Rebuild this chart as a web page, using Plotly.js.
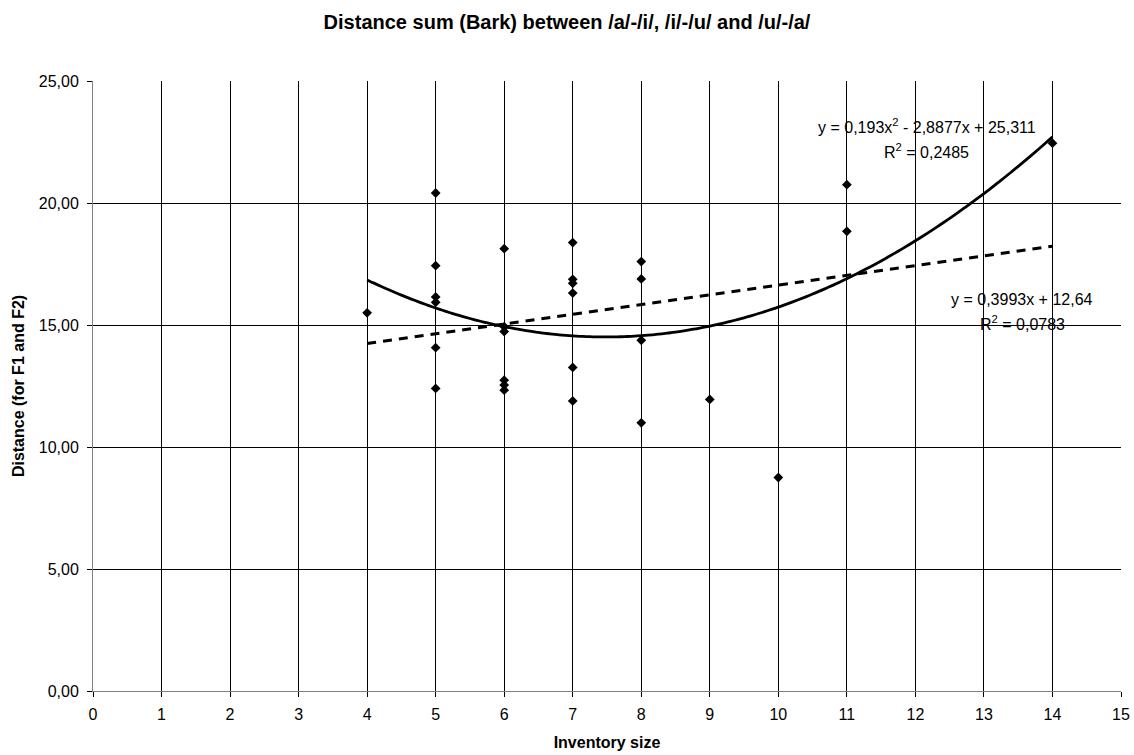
<!DOCTYPE html>
<html>
<head>
<meta charset="utf-8">
<script src="https://cdn.plot.ly/plotly-3.0.1.min.js"></script>
<style>html,body{margin:0;padding:0;background:#fff;}#chart{width:1134px;height:755px;}</style>
</head>
<body>
<div id="chart"></div>
<script>
// Observed data points (inventory size, distance sum in Bark)
const inventorySize = [4, 5,5,5,5,5,5, 6,6,6,6,6,6, 7,7,7,7,7,7, 8,8,8,8, 9, 10, 11,11, 14];
const distanceSum   = [15.50, 20.41,17.43,16.15,15.93,14.07,12.40, 18.13,14.93,14.73,12.74,12.54,12.33, 18.38,16.87,16.71,16.31,13.26,11.89, 17.60,16.89,14.37,10.99, 11.95, 8.75, 20.75,18.84, 22.45];

// Trendline coefficients as displayed on the chart
const polyCoef = [25.311, -2.8877, 0.193];   // c0 + c1 x + c2 x^2
const linCoef  = [12.64, 0.3993];            // c0 + c1 x
const trendRange = [4, 14];

const xTicks = [0,1,2,3,4,5,6,7,8,9,10,11,12,13,14,15];
const yTicks = [0,5,10,15,20,25];

const polyX = [], polyY = [];
for (let i = 0; i <= 100; i++) {
  const x = trendRange[0] + (trendRange[1] - trendRange[0]) * i / 100;
  polyX.push(x);
  polyY.push(polyCoef[0] + polyCoef[1] * x + polyCoef[2] * x * x);
}
const linX = trendRange.slice();
const linY = linX.map(x => linCoef[0] + linCoef[1] * x);

const font = 'Liberation Sans, Arial, sans-serif';

const traces = [
  {x: linX, y: linY, mode: 'lines', line: {color: '#000', width: 3, dash: '9px,7px'}, hoverinfo: 'skip'},
  {x: polyX, y: polyY, mode: 'lines', line: {color: '#000', width: 2.8, shape: 'spline'}, hoverinfo: 'skip'},
  {x: inventorySize, y: distanceSum, mode: 'markers', marker: {symbol: 'diamond', size: 7.5, color: '#000'}}
];

const L = 93, R = 1121, T = 81, B = 691;
const px = v => (v - L) / (R - L);
const py = v => (B - v) / (B - T);

const layout = {
  width: 1134, height: 755,
  margin: {l: L, r: 1134 - R, t: T, b: 755 - B},
  paper_bgcolor: '#fff', plot_bgcolor: '#fff',
  showlegend: false,
  separators: ', ',
  font: {family: font, size: 16, color: '#000'},
  title: {text: '<b>Distance sum (Bark) between /a/-/i/, /i/-/u/ and /u/-/a/</b>',
          font: {family: font, size: 20, color: '#000'}, x: 0.5, xanchor: 'center', y: 1 - 22 / 755, yanchor: 'middle'},
  xaxis: {
    range: [0, 15], tickvals: xTicks, ticktext: xTicks.map(String),
    showgrid: true, gridcolor: '#000', gridwidth: 1,
    showline: true, linecolor: '#808080', linewidth: 1,
    ticks: 'outside', ticklen: 5, tickcolor: '#000',
    ticklabelstandoff: 4,
    zeroline: false,
    tickfont: {family: font, size: 16},
    title: {text: '<b>Inventory size</b>', font: {family: font, size: 16}, standoff: 14}
  },
  yaxis: {
    range: [0, 25], tickvals: yTicks, tickformat: '.2f',
    showgrid: true, gridcolor: '#000', gridwidth: 1,
    showline: true, linecolor: '#808080', linewidth: 1,
    ticks: 'outside', ticklen: 5, tickcolor: '#000',
    ticklabelstandoff: 5,
    zeroline: false,
    tickfont: {family: font, size: 16},
    title: {text: '<b>Distance (for F1 and F2)</b>', font: {family: font, size: 16}, standoff: 10}
  },
  annotations: [
    {xref: 'paper', yref: 'paper', x: px(926.7), y: py(126), text: 'y = 0,193x<sup>2</sup> - 2,8877x + 25,311',
     showarrow: false, xanchor: 'center', yanchor: 'middle', font: {family: font, size: 16}},
    {xref: 'paper', yref: 'paper', x: px(926.7), y: py(151), text: 'R<sup>2</sup> = 0,2485',
     showarrow: false, xanchor: 'center', yanchor: 'middle', font: {family: font, size: 16}},
    {xref: 'paper', yref: 'paper', x: px(1022), y: py(299), text: 'y = 0,3993x + 12,64',
     showarrow: false, xanchor: 'center', yanchor: 'middle', font: {family: font, size: 16}},
    {xref: 'paper', yref: 'paper', x: px(1022), y: py(323), text: 'R<sup>2</sup> = 0,0783',
     showarrow: false, xanchor: 'center', yanchor: 'middle', font: {family: font, size: 16}}
  ]
};

Plotly.newPlot('chart', traces, layout, {displayModeBar: false, staticPlot: true});
</script>
</body>
</html>
